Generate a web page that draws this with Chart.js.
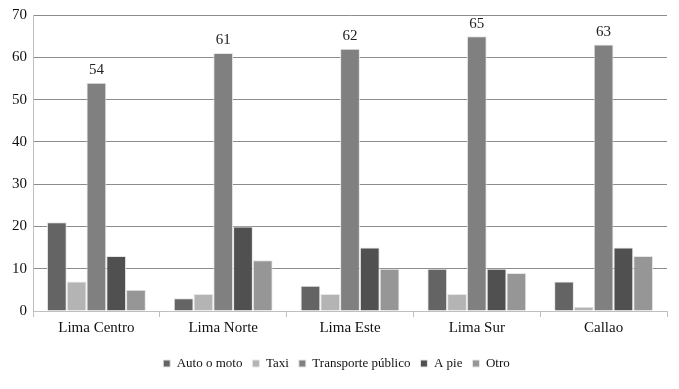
<!DOCTYPE html>
<html>
<head>
<meta charset="utf-8">
<script src="https://cdn.jsdelivr.net/npm/chart.js@4.4.1/dist/chart.umd.min.js"></script>
<style>
  body { margin: 0; background: #fff; }
  #wrap { width: 679px; height: 389px; }
</style>
</head>
<body>
<div id="wrap"><canvas id="grafica" width="679" height="389"></canvas></div>
<script>
const categorias = ['Lima Centro', 'Lima Norte', 'Lima Este', 'Lima Sur', 'Callao'];
const autoMoto = [21, 3, 6, 10, 7];
const taxi = [7, 4, 4, 4, 1];
const transportePublico = [54, 61, 62, 65, 63];
const aPie = [13, 20, 15, 10, 15];
const otro = [5, 12, 10, 9, 13];

const fuente = "'Liberation Serif', 'DejaVu Serif', serif";

// etiquetas sobre las barras de transporte publico
const etiquetas = {
    id: 'etiquetas',
    afterDatasetsDraw(chart) {
        const ctx = chart.ctx;
        const meta = chart.getDatasetMeta(2);
        ctx.save();
        ctx.font = '15px ' + fuente;
        ctx.fillStyle = '#222';
        ctx.textAlign = 'center';
        ctx.textBaseline = 'bottom';
        meta.data.forEach(function (bar, i) {
            ctx.fillText(transportePublico[i], bar.x, bar.y - 5);
        });
        ctx.restore();
    }
};

const ctx = document.getElementById('grafica').getContext('2d');
new Chart(ctx, {
    type: 'bar',
    data: {
        labels: categorias,
        datasets: [
            { label: 'Auto o moto', data: autoMoto, backgroundColor: '#646464' },
            { label: 'Taxi', data: taxi, backgroundColor: '#b4b4b4' },
            { label: 'Transporte público', data: transportePublico, backgroundColor: '#808080' },
            { label: 'A pie', data: aPie, backgroundColor: '#505050' },
            { label: 'Otro', data: otro, backgroundColor: '#969696' }
        ].map(function (d) {
            return Object.assign(d, { borderColor: '#e6e6e6', borderWidth: 1, categoryPercentage: 0.78, barPercentage: 1 });
        })
    },
    options: {
        responsive: false,
        animation: false,
        layout: { padding: { top: 5, right: 12, left: 6, bottom: 9 } },
        plugins: {
            tooltip: { enabled: false },
            legend: {
                position: 'bottom',
                labels: {
                    boxWidth: 7,
                    boxHeight: 7,
                    padding: 10,
                    color: '#111',
                    font: { family: fuente, size: 13 }
                }
            }
        },
        scales: {
            x: {
                afterFit: function (scale) { scale.height += 8; },
                grid: { drawOnChartArea: false, tickLength: 6, color: '#bfbfbf' },
                border: { color: '#bfbfbf' },
                ticks: { color: '#111', font: { family: fuente, size: 15 }, padding: 2 }
            },
            y: {
                min: 0,
                max: 70,
                ticks: { stepSize: 10, color: '#111', font: { family: fuente, size: 15 }, padding: 6 },
                grid: { color: '#8c8c8c', drawTicks: false },
                border: { color: '#bfbfbf' }
            }
        }
    },
    plugins: [etiquetas]
});
</script>
</body>
</html>
